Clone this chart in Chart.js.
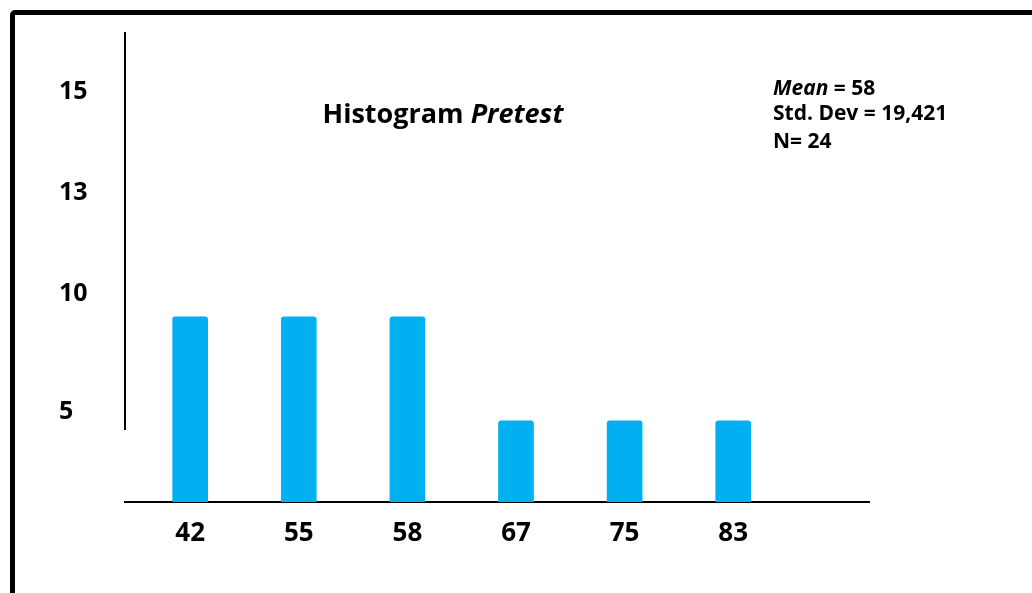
<!DOCTYPE html>
<html>
<head>
<meta charset="utf-8">
<script src="https://cdn.jsdelivr.net/npm/chart.js@4.4.1/dist/chart.umd.min.js"></script>
<style>
  html, body { margin: 0; padding: 0; background: #fff; overflow: hidden; }
  #wrap { position: relative; width: 1032px; height: 593px; overflow: hidden; }
  #frame { position: absolute; left: 10px; top: 10px; width: 1100px; height: 700px;
           border: 5px solid #000; border-radius: 5px; box-sizing: border-box; }
  #c { position: absolute; left: 0; top: 0; }
</style>
</head>
<body>
<div id="wrap">
  <div id="frame"></div>
  <canvas id="c" width="1032" height="593"></canvas>
</div>
<script>
// ---- data ----
const categories   = ['42', '55', '58', '67', '75', '83'];
const frequencies  = [9, 9, 9, 4.6, 4.6, 4.6];
const yTickLabels  = ['15', '13', '10', '5'];
const titleParts   = [['Histogram ', false], ['Pretest', true]];
const statsLines   = [
  [['Mean', true], [' = 58', false]],
  [['Std. Dev = 19,421', false]],
  [['N= 24', false]]
];

// ---- layout / style ----
const FONT = '"Open Sans", "Noto Sans", sans-serif';
const BAR_COLOR = '#00B0F0';
// label axis spacing (in equal steps): before first label, between labels, after last label
const labelSteps = [7, 12, 12, 14, 3];

function paddedLabels(labels, steps) {
  const out = [];
  for (let i = 0; i < steps[0]; i++) out.push('');
  labels.forEach((lab, k) => {
    out.push(lab);
    for (let i = 1; i < steps[k + 1]; i++) out.push('');
  });
  return out;
}

const textPlugin = {
  id: 'texts',
  afterDraw(chart) {
    const ctx = chart.ctx;
    ctx.save();
    ctx.fillStyle = '#000';
    ctx.textBaseline = 'alphabetic';
    const runFont = (italic, size) => (italic ? 'italic ' : '') + 'bold ' + size + 'px ' + FONT;
    // title
    const tSize = 27;
    let total = 0;
    titleParts.forEach(([s, it]) => { ctx.font = runFont(it, tSize); total += ctx.measureText(s).width; });
    let x = 443 - total / 2;
    titleParts.forEach(([s, it]) => { ctx.font = runFont(it, tSize); ctx.fillText(s, x, 123); x += ctx.measureText(s).width; });
    // statistics
    const sSize = 21;
    const baselines = [95, 120, 148];
    statsLines.forEach((line, i) => {
      let sx = 773;
      line.forEach(([s, it]) => { ctx.font = runFont(it, sSize); ctx.fillText(s, sx, baselines[i]); sx += ctx.measureText(s).width; });
    });
    ctx.restore();
  }
};

new Chart(document.getElementById('c'), {
  type: 'bar',
  data: {
    datasets: [{
      data: frequencies.map((v, i) => ({ x: i, y: v })),
      backgroundColor: BAR_COLOR,
      borderWidth: 0,
      borderRadius: 3,
      borderSkipped: false,
      barThickness: 35,
      xAxisID: 'x',
      yAxisID: 'y'
    }]
  },
  options: {
    responsive: false,
    animation: false,
    events: [],
    layout: { padding: { left: 59, top: 33, right: 163, bottom: 0 } },
    plugins: { legend: { display: false }, tooltip: { enabled: false }, title: { display: false } },
    scales: {
      x: {
        type: 'linear',
        position: 'bottom',
        offset: false,
        min: -0.6,
        max: 6.25,
        grid: { display: false, drawTicks: false, offset: false },
        border: { display: true, color: '#000', width: 2 },
        afterBuildTicks: s => { s.ticks = categories.map((_, i) => ({ value: i })); },
        afterFit: s => { s.height = 91; },
        ticks: {
          autoSkip: false,
          maxRotation: 0,
          padding: 16,
          color: '#000',
          font: { family: FONT, weight: 'bold', size: 26 },
          callback: v => categories[v] ?? ''
        }
      },
      y: {
        type: 'linear',
        position: 'right',
        display: false,
        min: 1.17,
        max: 21
      },
      ygap: {
        type: 'linear',
        position: 'left',
        stack: 'left',
        stackWeight: 73,
        weight: 1,
        grid: { display: false, drawTicks: false },
        border: { display: false },
        ticks: { display: false }
      },
      yl: {
        type: 'category',
        position: 'left',
        stack: 'left',
        stackWeight: 396,
        weight: 2,
        labels: paddedLabels(yTickLabels, labelSteps),
        offset: false,
        grid: { display: false, drawTicks: false, offset: false },
        border: { display: true, color: '#000', width: 2 },
        afterFit: s => { s.width = 66; },
        ticks: {
          autoSkip: false,
          crossAlign: 'far',
          padding: 0,
          color: '#000',
          font: { family: FONT, weight: 'bold', size: 25 }
        }
      }
    }
  },
  plugins: [textPlugin]
});
</script>
</body>
</html>
